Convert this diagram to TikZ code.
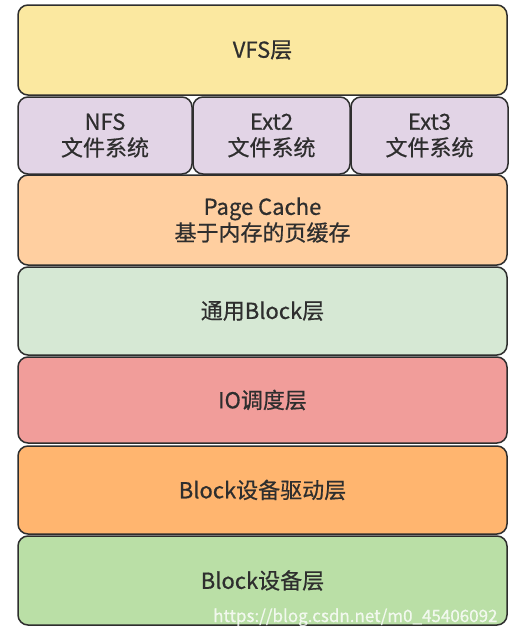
\documentclass[tikz,border=0pt]{standalone}
\usepackage{fontspec}
\setmainfont{Noto Sans CJK SC}[FakeBold=0.6]
\usetikzlibrary{positioning}

\definecolor{vfsyellow}{HTML}{FBE8A0}
\definecolor{fspurple}{HTML}{E2D4E6}
\definecolor{cacheorange}{HTML}{FFCFA0}
\definecolor{blockgreen}{HTML}{D6E8D4}
\definecolor{iored}{HTML}{F19D9A}
\definecolor{driverorange}{HTML}{FFB56F}
\definecolor{devicegreen}{HTML}{BADFA6}
\definecolor{edgegray}{HTML}{2E2E2E}

\tikzset{
  layer/.style={draw=edgegray, line width=1.5pt, rounded corners=10pt,
    text=edgegray, align=center, font=\fontsize{22}{26}\selectfont,
    inner sep=0pt, outer sep=0pt, anchor=north west},
  fullrow/.style={layer, minimum width=489pt}
}

\begin{document}
\begin{tikzpicture}[x=1pt,y=1pt,node distance=2pt]
\useasboundingbox (0,0) rectangle (522,-633);

\node[fullrow, fill=vfsyellow, minimum height=90pt] (vfs) at (18,-5) {VFS层};
\node[layer, fill=fspurple, minimum width=174pt, minimum height=77pt,
  below=of vfs.south west, anchor=north west] (nfs) {NFS\\文件系统};
\node[layer, fill=fspurple, minimum width=157pt, minimum height=77pt,
  right=1pt of nfs.north east, anchor=north west] (ext2) {Ext2\\文件系统};
\node[layer, fill=fspurple, minimum width=157pt, minimum height=77pt,
  right=1pt of ext2.north east, anchor=north west] (ext3) {Ext3\\文件系统};
\node[fullrow, fill=cacheorange, minimum height=90pt,
  below=1pt of nfs.south west, anchor=north west] (cache) {Page Cache\\基于内存的页缓存};
\node[fullrow, fill=blockgreen, minimum height=88pt,
  below=of cache.south west, anchor=north west] (block) {通用Block层};
\node[fullrow, fill=iored, minimum height=86pt,
  below=of block.south west, anchor=north west] (io) {IO调度层};
\node[fullrow, fill=driverorange, minimum height=88pt,
  below=3pt of io.south west, anchor=north west] (driver) {Block设备驱动层};
\node[fullrow, fill=devicegreen, minimum height=89pt,
  below=of driver.south west, anchor=north west] (device) {Block设备层};

% watermark
\node[anchor=base west, text=white, opacity=0.8, font=\fontsize{17}{20}\selectfont,
  inner sep=0pt] (mark) at (213,-622) {https://blog.csdn.net/m0\_45406092};
\end{tikzpicture}
\end{document}
